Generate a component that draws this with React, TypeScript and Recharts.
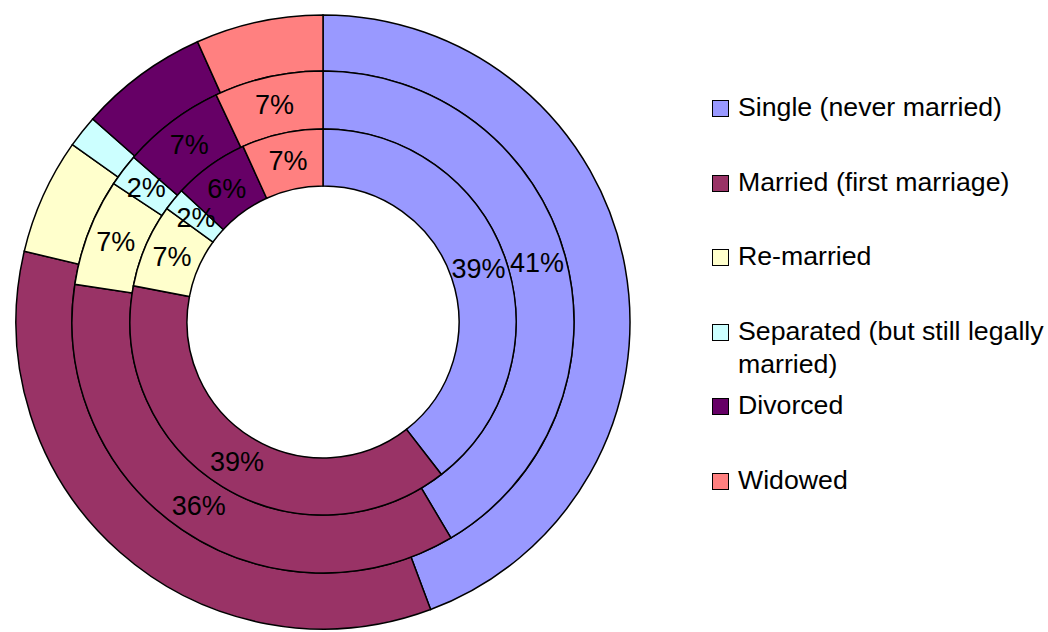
import { PieChart, Pie, Cell } from 'recharts';

const categories = [
  'Single (never married)',
  'Married (first marriage)',
  'Re-married',
  'Separated (but still legally married)',
  'Divorced',
  'Widowed',
];
const colors = ['#9999FF', '#993366', '#FFFFCC', '#CCFFFF', '#660066', '#FF8080'];

// three rings, innermost first (values in %)
const innerValues = [39.49, 38.51, 7.0, 1.9, 6.3, 6.8];
const middleValues = [41.49, 35.91, 6.9, 2.1, 6.6, 7.0];
const outerValues = [44.3, 34.4, 6.1, 1.7, 6.8, 6.7];

const toRows = (vals: number[]) => categories.map((name, i) => ({ name, value: vals[i] }));
const innerData = toRows(innerValues);
const middleData = toRows(middleValues);
const outerData = toRows(outerValues);

const RADIAN = Math.PI / 180;

const renderPct = (props: any) => {
  const { cx, cy, midAngle, innerRadius, outerRadius, percent } = props;
  const r = (innerRadius + outerRadius) / 2;
  const x = cx + r * Math.cos(-midAngle * RADIAN);
  const y = cy + r * Math.sin(-midAngle * RADIAN);
  return (
    <text
      x={x}
      y={y}
      fill="#000"
      textAnchor="middle"
      dominantBaseline="central"
      style={{ fontFamily: '"Liberation Sans", Arial, sans-serif', fontSize: 27 }}
    >
      {`${Math.round(percent * 100)}%`}
    </text>
  );
};

const CX = 323;
const CY = 322;

export default function App() {
  return (
    <div style={{ position: 'fixed', left: 0, top: 0, width: 1048, height: 632, background: '#fff', overflow: 'hidden' }}>
      <PieChart width={1048} height={632} margin={{ top: 0, right: 0, bottom: 0, left: 0 }}>
        <Pie
          data={outerData}
          dataKey="value"
          cx={CX}
          cy={CY}
          innerRadius={251}
          outerRadius={307}
          startAngle={90}
          endAngle={-270}
          stroke="#000"
          strokeWidth={1.5}
          isAnimationActive={false}
          label={false}
          labelLine={false}
        >
          {outerData.map((_, i) => (
            <Cell key={`o-${i}`} fill={colors[i]} />
          ))}
        </Pie>
        <Pie
          data={middleData}
          dataKey="value"
          cx={CX}
          cy={CY}
          innerRadius={193}
          outerRadius={251}
          startAngle={90}
          endAngle={-270}
          stroke="#000"
          strokeWidth={1.5}
          isAnimationActive={false}
          label={renderPct}
          labelLine={false}
        >
          {middleData.map((_, i) => (
            <Cell key={`m-${i}`} fill={colors[i]} />
          ))}
        </Pie>
        <Pie
          data={innerData}
          dataKey="value"
          cx={CX}
          cy={CY}
          innerRadius={136}
          outerRadius={193}
          startAngle={90}
          endAngle={-270}
          stroke="#000"
          strokeWidth={1.5}
          isAnimationActive={false}
          label={renderPct}
          labelLine={false}
        >
          {innerData.map((_, i) => (
            <Cell key={`i-${i}`} fill={colors[i]} />
          ))}
        </Pie>
      </PieChart>

      <div
        style={{
          position: 'absolute',
          left: 712,
          top: 91,
          fontFamily: '"Liberation Sans", Arial, sans-serif',
          fontSize: 26.7,
          lineHeight: '33px',
          color: '#000',
        }}
      >
        {categories.map((name, i) => (
          <div key={name} style={{ height: 74.6, display: 'flex', alignItems: 'flex-start' }}>
            <div
              style={{
                width: 15,
                height: 15,
                marginTop: 9,
                marginRight: 9,
                border: '1px solid #000',
                background: colors[i],
                flex: 'none',
              }}
            />
            <div style={{ width: 311 }}>{name}</div>
          </div>
        ))}
      </div>
    </div>
  );
}
